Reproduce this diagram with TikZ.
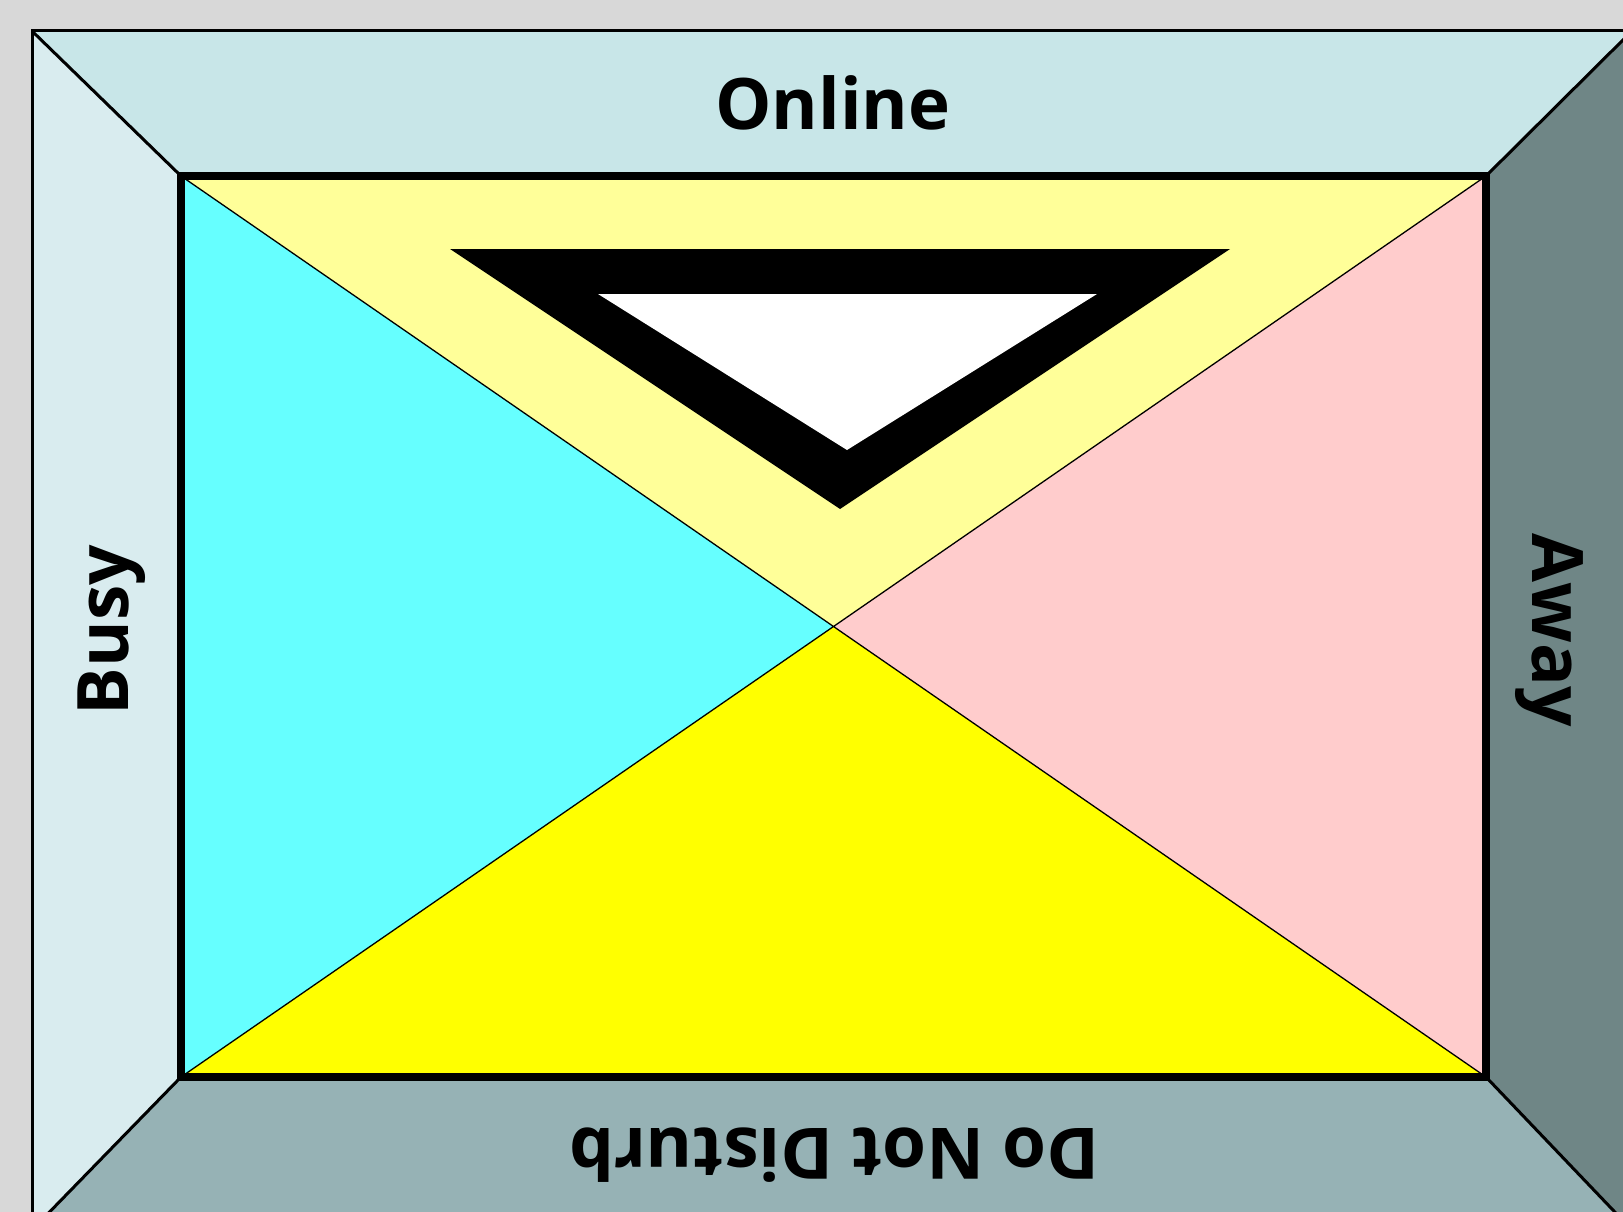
\documentclass[tikz,border=0pt]{standalone}
\usepackage{fontspec}
\setmainfont{Open Sans}
\definecolor{bgc}{HTML}{D8D8D8}
\definecolor{onlinec}{HTML}{C8E6E8}
\definecolor{busyc}{HTML}{D9ECEF}
\definecolor{awayc}{HTML}{6F8686}
\definecolor{dndc}{HTML}{96B2B5}
\definecolor{topyc}{HTML}{FFFF99}
\definecolor{cyanc}{HTML}{66FFFF}
\definecolor{pinkc}{HTML}{FFCCCC}
\definecolor{yelc}{HTML}{FFFF00}
\tikzset{
  lab/.style={font=\fontsize{71}{85}\selectfont\bfseries, inner sep=0pt},
  edge3/.style={draw=black, line width=3pt, line join=miter},
  thin/.style={draw=black, line width=1.3pt},
}
\begin{document}
\begin{tikzpicture}[x=1pt,y=-1pt]
\useasboundingbox (0,0) rectangle (1623,1212);
\clip (0,0) rectangle (1623,1212);
\fill[bgc] (0,0) rectangle (1623,1212);
% corners
\coordinate (A) at (32,31);
\coordinate (B) at (1632,31);
\coordinate (C) at (1632,1230);
\coordinate (D) at (32,1230);
\coordinate (a) at (181,176);
\coordinate (b) at (1486,176);
\coordinate (c) at (1486,1077);
\coordinate (d) at (181,1077);
\coordinate (m) at (833.5,626.5);
% frame panels
\fill[onlinec] (A) -- (B) -- (b) -- (a) -- cycle;
\fill[busyc] (A) -- (a) -- (d) -- (D) -- cycle;
\fill[awayc] (B) -- (C) -- (c) -- (b) -- cycle;
\fill[dndc] (D) -- (d) -- (c) -- (C) -- cycle;
\draw[edge3] (A) rectangle (C);
\draw[edge3] (A) -- (a) (B) -- (b) (C) -- (c) (D) -- (d);
% inner triangles
\fill[topyc] (a) -- (b) -- (m) -- cycle;
\fill[cyanc] (a) -- (m) -- (d) -- cycle;
\fill[pinkc] (b) -- (c) -- (m) -- cycle;
\fill[yelc] (d) -- (c) -- (m) -- cycle;
\draw[thin] (a) -- (c) (b) -- (d);
\draw[draw=black, line width=8pt] (a) rectangle (c);
% icon
\fill[black] (450,249) -- (1230,249) -- (840,509) -- cycle;
\fill[white] (598,294) -- (1097,294) -- (847,450) -- cycle;
% labels
\node[lab] (online) at (833,103) {Online};
\node[lab, rotate=90] (busy) at (112,630) {Busy};
\node[lab, rotate=-90] (away) at (1549,630) {Away};
\node[lab, rotate=180] (dnd) at (834,1155) {Do Not Disturb};
\end{tikzpicture}
\end{document}
